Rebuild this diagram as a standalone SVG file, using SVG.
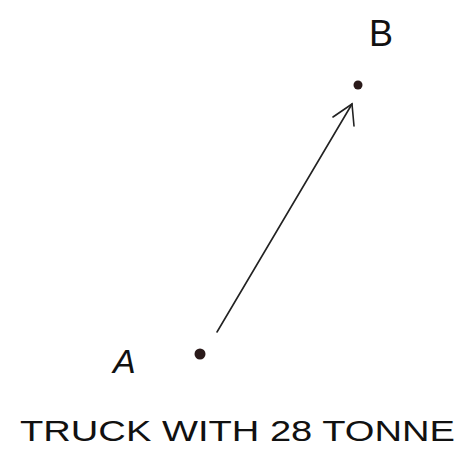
<svg xmlns="http://www.w3.org/2000/svg" width="461" height="454" viewBox="0 0 461 454">
<style>
.lbl{font-family:"Liberation Sans",Arial,sans-serif;fill:#111;font-weight:normal}
.dot{fill:#2a1a1a}
.ln{stroke:#222;stroke-width:1.6;fill:none;stroke-linecap:round}
</style>
<rect width="461" height="454" fill="#fff"/>
<g id="nodeB">
<circle class="dot" cx="358" cy="85" r="4.5"/>
<text class="lbl" x="369" y="46" font-size="36">B</text>
</g>
<g id="nodeA">
<circle class="dot" cx="200" cy="354" r="5.5"/>
<text class="lbl" x="113" y="373" font-size="34" font-style="italic">A</text>
</g>
<g id="connectors">
<path class="ln" d="M217 332 L352 104"/>
<path class="ln" d="M333 117 L352 104 L354 126"/>
</g>
<g id="caption">
<text class="lbl" x="20" y="441" font-size="30" textLength="435" lengthAdjust="spacingAndGlyphs">TRUCK WITH  28 TONNE</text>
</g>
</svg>
